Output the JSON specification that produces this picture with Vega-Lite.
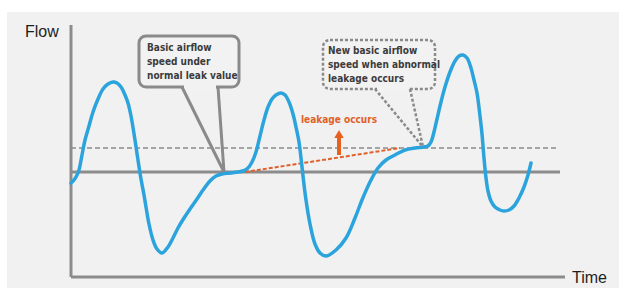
{
  "$schema": "https://vega.github.io/schema/vega-lite/v6.json",
  "width": 619,
  "height": 289,
  "autosize": {"type": "fit", "contains": "padding"},
  "padding": 0,
  "background": "#ffffff",
  "config": {"view": {"stroke": null}},
  "datasets": {
    "bg": [{"t": 7, "t2": 619, "f": 160, "f2": -116}],
    "axes": [
      {"t": 71, "t2": 71, "f": 147, "f2": -105},
      {"t": 71, "t2": 565, "f": -105, "f2": -105},
      {"t": 71, "t2": 560, "f": 0, "f2": 0}
    ],
    "level": [{"t": 71, "t2": 558, "f": 24, "f2": 24}],
    "trend": [{"t": 245, "t2": 400, "f": 0, "f2": 24}],
    "flow": [
      {"t": 71, "f": -11}, {"t": 74, "f": -8}, {"t": 77, "f": -3}, {"t": 79, "f": 2},
      {"t": 82, "f": 17}, {"t": 85, "f": 32}, {"t": 89, "f": 46}, {"t": 93, "f": 60},
      {"t": 98, "f": 73}, {"t": 103, "f": 83}, {"t": 108, "f": 88}, {"t": 113, "f": 90},
      {"t": 117, "f": 89}, {"t": 121, "f": 85}, {"t": 125, "f": 77}, {"t": 128, "f": 69},
      {"t": 131, "f": 56}, {"t": 135, "f": 32}, {"t": 138, "f": 12}, {"t": 141, "f": -7},
      {"t": 144, "f": -23}, {"t": 146, "f": -35}, {"t": 149, "f": -52}, {"t": 153, "f": -68},
      {"t": 157, "f": -77}, {"t": 162, "f": -81}, {"t": 168, "f": -75}, {"t": 173, "f": -66},
      {"t": 178, "f": -56}, {"t": 184, "f": -46}, {"t": 190, "f": -37}, {"t": 197, "f": -27},
      {"t": 203, "f": -18}, {"t": 210, "f": -9}, {"t": 216, "f": -4}, {"t": 222, "f": -2},
      {"t": 230, "f": -1}, {"t": 238, "f": 0}, {"t": 243, "f": 1}, {"t": 248, "f": 4},
      {"t": 252, "f": 10}, {"t": 256, "f": 20}, {"t": 260, "f": 36}, {"t": 264, "f": 52},
      {"t": 268, "f": 65}, {"t": 272, "f": 73}, {"t": 276, "f": 77}, {"t": 281, "f": 79},
      {"t": 285, "f": 77}, {"t": 289, "f": 70}, {"t": 293, "f": 58}, {"t": 296, "f": 45},
      {"t": 299, "f": 30}, {"t": 301, "f": 14}, {"t": 303, "f": -4}, {"t": 306, "f": -28},
      {"t": 310, "f": -52}, {"t": 315, "f": -72}, {"t": 320, "f": -81}, {"t": 326, "f": -84},
      {"t": 336, "f": -78}, {"t": 346, "f": -66}, {"t": 355, "f": -46}, {"t": 362, "f": -28},
      {"t": 370, "f": -10}, {"t": 378, "f": 4}, {"t": 386, "f": 12}, {"t": 395, "f": 17},
      {"t": 405, "f": 22}, {"t": 415, "f": 24}, {"t": 424, "f": 25}, {"t": 428, "f": 26},
      {"t": 431, "f": 30}, {"t": 434, "f": 40}, {"t": 437, "f": 53}, {"t": 441, "f": 70},
      {"t": 445, "f": 85}, {"t": 450, "f": 100}, {"t": 455, "f": 111}, {"t": 459, "f": 116},
      {"t": 463, "f": 117}, {"t": 467, "f": 114}, {"t": 471, "f": 104}, {"t": 474, "f": 92},
      {"t": 477, "f": 79}, {"t": 480, "f": 56}, {"t": 482, "f": 38}, {"t": 484, "f": 14},
      {"t": 486, "f": -6}, {"t": 488, "f": -19}, {"t": 491, "f": -29}, {"t": 495, "f": -35},
      {"t": 500, "f": -38}, {"t": 504, "f": -39}, {"t": 509, "f": -38}, {"t": 514, "f": -34},
      {"t": 519, "f": -26}, {"t": 524, "f": -15}, {"t": 528, "f": -3}, {"t": 531, "f": 9}
    ],
    "box1": [{"t": 139, "t2": 239, "f": 136, "f2": 85}],
    "gap1": [{"t": 184, "t2": 216, "f": 85, "f2": 85}],
    "ptr1": [
      {"t": 182, "t2": 224, "f": 85, "f2": 0},
      {"t": 218, "t2": 224, "f": 85, "f2": 0}
    ],
    "box2": [{"t": 323, "t2": 435, "f": 132, "f2": 83}],
    "gap2": [{"t": 377, "t2": 408, "f": 83, "f2": 83}],
    "ptr2": [
      {"t": 375, "t2": 423, "f": 83, "f2": 25},
      {"t": 410, "t2": 423, "f": 83, "f2": 25}
    ],
    "notes": [
      {"t": 147, "f": 124, "label": "Basic airflow"},
      {"t": 147, "f": 110, "label": "speed under"},
      {"t": 147, "f": 96, "label": "normal leak value"},
      {"t": 328, "f": 121, "label": "New basic airflow"},
      {"t": 328, "f": 107, "label": "speed when abnormal"},
      {"t": 328, "f": 93, "label": "leakage occurs"}
    ],
    "orangeLabel": [{"t": 339, "f": 52, "label": "leakage occurs"}],
    "shaft": [{"t": 339, "t2": 339, "f": 17, "f2": 36}],
    "head": [{"t": 339, "f": 38}],
    "titles": [
      {"t": 25, "f": 140, "label": "Flow"},
      {"t": 572, "f": -106, "label": "Time"}
    ]
  },
  "encoding": {
    "x": {"field": "t", "type": "quantitative", "scale": {"domain": [0, 619], "nice": false, "zero": false}, "axis": null},
    "y": {"field": "f", "type": "quantitative", "scale": {"domain": [-117, 172], "nice": false, "zero": false}, "axis": null}
  },
  "layer": [
    {"data": {"name": "bg"}, "mark": {"type": "rect", "color": "#f1f1f1"},
     "encoding": {"x2": {"field": "t2"}, "y2": {"field": "f2"}}},
    {"data": {"name": "axes"}, "mark": {"type": "rule", "color": "#8c8c8c", "strokeWidth": 3},
     "encoding": {"x2": {"field": "t2"}, "y2": {"field": "f2"}}},
    {"data": {"name": "level"}, "mark": {"type": "rule", "color": "#8c8c8c", "strokeWidth": 1.5, "strokeDash": [5, 3]},
     "encoding": {"x2": {"field": "t2"}, "y2": {"field": "f2"}}},
    {"data": {"name": "trend"}, "mark": {"type": "rule", "color": "#e0602a", "strokeWidth": 2, "strokeDash": [4, 2]},
     "encoding": {"x2": {"field": "t2"}, "y2": {"field": "f2"}}},
    {"data": {"name": "box1"}, "mark": {"type": "rect", "fill": "#f2f2f2", "stroke": "#8a8a8a", "strokeWidth": 3, "cornerRadius": 7},
     "encoding": {"x2": {"field": "t2"}, "y2": {"field": "f2"}}},
    {"data": {"name": "gap1"}, "mark": {"type": "rule", "color": "#f2f2f2", "strokeWidth": 5},
     "encoding": {"x2": {"field": "t2"}, "y2": {"field": "f2"}}},
    {"data": {"name": "box2"}, "mark": {"type": "rect", "fill": "#f2f2f2", "stroke": "#8a8a8a", "strokeWidth": 2.5, "strokeDash": [3, 2], "cornerRadius": 7},
     "encoding": {"x2": {"field": "t2"}, "y2": {"field": "f2"}}},
    {"data": {"name": "gap2"}, "mark": {"type": "rule", "color": "#f2f2f2", "strokeWidth": 5},
     "encoding": {"x2": {"field": "t2"}, "y2": {"field": "f2"}}},
    {"data": {"name": "flow"}, "mark": {"type": "line", "color": "#2ba3dc", "strokeWidth": 3.5, "interpolate": "catmull-rom", "strokeCap": "round"},
     "encoding": {}},
    {"data": {"name": "ptr1"}, "mark": {"type": "rule", "color": "#8a8a8a", "strokeWidth": 3},
     "encoding": {"x2": {"field": "t2"}, "y2": {"field": "f2"}}},
    {"data": {"name": "ptr2"}, "mark": {"type": "rule", "color": "#8a8a8a", "strokeWidth": 2.5, "strokeDash": [3, 2]},
     "encoding": {"x2": {"field": "t2"}, "y2": {"field": "f2"}}},
    {"data": {"name": "shaft"}, "mark": {"type": "rule", "color": "#e8601e", "strokeWidth": 4},
     "encoding": {"x2": {"field": "t2"}, "y2": {"field": "f2"}}},
    {"data": {"name": "head"}, "mark": {"type": "point", "shape": "triangle-up", "filled": true, "color": "#e8601e", "size": 90, "opacity": 1},
     "encoding": {}},
    {"data": {"name": "notes"}, "mark": {"type": "text", "align": "left", "baseline": "middle", "font": "DejaVu Sans Condensed, sans-serif", "fontWeight": "bold", "fontSize": 10, "letterSpacing": -0.6, "color": "#3c3c3c"},
     "encoding": {"text": {"field": "label"}}},
    {"data": {"name": "orangeLabel"}, "mark": {"type": "text", "align": "center", "baseline": "middle", "font": "DejaVu Sans Condensed, sans-serif", "fontWeight": "bold", "fontSize": 10, "letterSpacing": -0.6, "color": "#e0602a"},
     "encoding": {"text": {"field": "label"}}},
    {"data": {"name": "titles"}, "mark": {"type": "text", "align": "left", "baseline": "middle", "font": "Liberation Sans, Arial, sans-serif", "fontSize": 16, "color": "#1e1e1e", "letterSpacing": -0.5},
     "encoding": {"text": {"field": "label"}}}
  ]
}
